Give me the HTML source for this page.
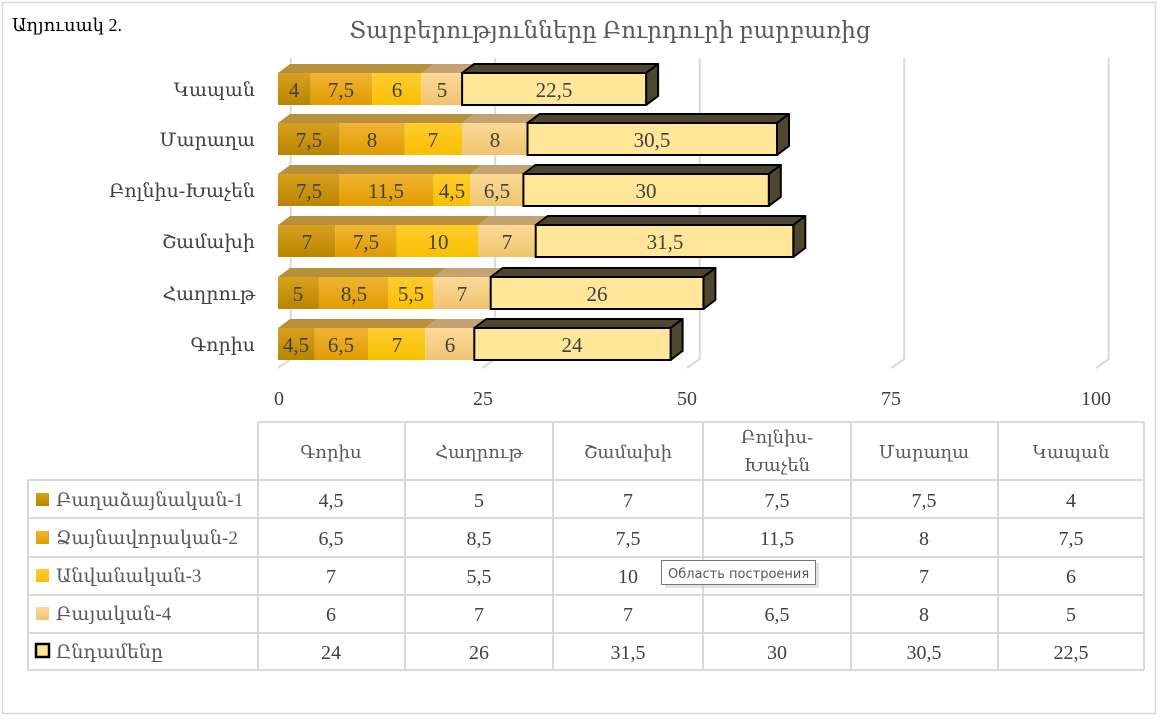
<!DOCTYPE html>
<html><head><meta charset="utf-8"><style>
body{margin:0;background:#fff;}
svg{display:block;font-family:"Liberation Serif","DejaVu Serif",serif;}
</style></head><body>
<svg width="1167" height="720" viewBox="0 0 1167 720" xmlns="http://www.w3.org/2000/svg">
<defs>
<linearGradient id="g1" x1="0" y1="0" x2="0" y2="1"><stop offset="0" stop-color="#d8a020"/><stop offset="1" stop-color="#b98500"/></linearGradient>
<linearGradient id="g2" x1="0" y1="0" x2="0" y2="1"><stop offset="0" stop-color="#f0b432"/><stop offset="1" stop-color="#e09c00"/></linearGradient>
<linearGradient id="g3" x1="0" y1="0" x2="0" y2="1"><stop offset="0" stop-color="#ffcc30"/><stop offset="1" stop-color="#f8c000"/></linearGradient>
<linearGradient id="g4" x1="0" y1="0" x2="0" y2="1"><stop offset="0" stop-color="#fbd996"/><stop offset="1" stop-color="#f0c470"/></linearGradient>
</defs>
<rect x="2.5" y="2.5" width="1153" height="711" fill="#fff" stroke="#d9d9d9" stroke-width="1.5"/>
<text x="12" y="31" font-size="18" fill="#000">Աղյուսակ 2.</text>
<text x="610" y="38" font-size="23" fill="#595959" text-anchor="middle">Տարբերությունները Բուրդուրի բարբառից</text>

<g stroke="#d9d9d9" stroke-width="2" fill="none">
<polyline points="290.7,58 290.7,359 278,368"/>
<polyline points="495.2,58 495.2,359 482.5,368"/>
<polyline points="699.7,58 699.7,359 687,368"/>
<polyline points="904.2,58 904.2,359 891.5,368"/>
<polyline points="1108.7,58 1108.7,359 1096,368"/>
</g>

<g font-size="19" fill="#404040" text-anchor="end">
<text x="255" y="96">Կապան</text>
<text x="255" y="146">Մարաղա</text>
<text x="255" y="197">Բոլնիս-Խաչեն</text>
<text x="255" y="248">Շամախի</text>
<text x="255" y="300">Հաղրութ</text>
<text x="255" y="351">Գորիս</text>
</g>
<g font-size="20" fill="#404040" text-anchor="middle">
<text x="279" y="405">0</text><text x="483" y="405">25</text><text x="687" y="405">50</text><text x="891" y="405">75</text><text x="1096" y="405">100</text>
</g>

<g>
<polygon points="278,73 290,64 634,64 622,73" fill="#b8903c"/>
<polygon points="421,73 433,64 475,64 463,73" fill="#c4a272"/>
<rect x="278" y="73" width="32.7" height="32" fill="url(#g1)"/>
<rect x="310.7" y="73" width="61.4" height="32" fill="url(#g2)"/>
<rect x="372.1" y="73" width="49.1" height="32" fill="url(#g3)"/>
<rect x="421.2" y="73" width="40.9" height="32" fill="url(#g4)"/>
<polygon points="462.1,73 474.1,64 658.1,64 646.1,73" fill="#4f4630" stroke="#000" stroke-width="2" stroke-linejoin="round"/>
<polygon points="646.1,73 658.1,64 658.1,96 646.1,105" fill="#4f4630" stroke="#000" stroke-width="2" stroke-linejoin="round"/>
<rect x="462.1" y="73" width="184" height="32" fill="#ffe699" stroke="#000" stroke-width="2"/>
</g>
<g>
<polygon points="278,123 290,114 474,114 462,123" fill="#b8903c"/>
<polygon points="462,123 474,114 540,114 528,123" fill="#c4a272"/>
<rect x="278" y="123" width="61.4" height="32" fill="url(#g1)"/>
<rect x="339.4" y="123" width="65.4" height="32" fill="url(#g2)"/>
<rect x="404.8" y="123" width="57.3" height="32" fill="url(#g3)"/>
<rect x="462.1" y="123" width="65.4" height="32" fill="url(#g4)"/>
<polygon points="527.5,123 539.5,114 789,114 777,123" fill="#4f4630" stroke="#000" stroke-width="2" stroke-linejoin="round"/>
<polygon points="777,123 789,114 789,146 777,155" fill="#4f4630" stroke="#000" stroke-width="2" stroke-linejoin="round"/>
<rect x="527.5" y="123" width="249.5" height="32" fill="#ffe699" stroke="#000" stroke-width="2"/>
</g>
<g>
<polygon points="278,174 290,165 482,165 470,174" fill="#b8903c"/>
<polygon points="470,174 482,165 536,165 524,174" fill="#c4a272"/>
<rect x="278" y="174" width="61.4" height="32" fill="url(#g1)"/>
<rect x="339.4" y="174" width="94" height="32" fill="url(#g2)"/>
<rect x="433.4" y="174" width="36.8" height="32" fill="url(#g3)"/>
<rect x="470.2" y="174" width="53.2" height="32" fill="url(#g4)"/>
<polygon points="523.4,174 535.4,165 780.8,165 768.8,174" fill="#4f4630" stroke="#000" stroke-width="2" stroke-linejoin="round"/>
<polygon points="768.8,174 780.8,165 780.8,197 768.8,206" fill="#4f4630" stroke="#000" stroke-width="2" stroke-linejoin="round"/>
<rect x="523.4" y="174" width="245.4" height="32" fill="#ffe699" stroke="#000" stroke-width="2"/>
</g>
<g>
<polygon points="278,225 290,216 490,216 478,225" fill="#b8903c"/>
<polygon points="478,225 490,216 548,216 536,225" fill="#c4a272"/>
<rect x="278" y="225" width="57.3" height="32" fill="url(#g1)"/>
<rect x="335.3" y="225" width="61.3" height="32" fill="url(#g2)"/>
<rect x="396.6" y="225" width="81.8" height="32" fill="url(#g3)"/>
<rect x="478.4" y="225" width="57.3" height="32" fill="url(#g4)"/>
<polygon points="535.7,225 547.7,216 805.3,216 793.3,225" fill="#4f4630" stroke="#000" stroke-width="2" stroke-linejoin="round"/>
<polygon points="793.3,225 805.3,216 805.3,248 793.3,257" fill="#4f4630" stroke="#000" stroke-width="2" stroke-linejoin="round"/>
<rect x="535.7" y="225" width="257.6" height="32" fill="#ffe699" stroke="#000" stroke-width="2"/>
</g>
<g>
<polygon points="278,277 290,268 446,268 434,277" fill="#b8903c"/>
<polygon points="434,277 446,268 503,268 491,277" fill="#c4a272"/>
<rect x="278" y="277" width="40.9" height="32" fill="url(#g1)"/>
<rect x="318.9" y="277" width="69.5" height="32" fill="url(#g2)"/>
<rect x="388.4" y="277" width="45" height="32" fill="url(#g3)"/>
<rect x="433.4" y="277" width="57.3" height="32" fill="url(#g4)"/>
<polygon points="490.7,277 502.7,268 715.4,268 703.4,277" fill="#4f4630" stroke="#000" stroke-width="2" stroke-linejoin="round"/>
<polygon points="703.4,277 715.4,268 715.4,300 703.4,309" fill="#4f4630" stroke="#000" stroke-width="2" stroke-linejoin="round"/>
<rect x="490.7" y="277" width="212.7" height="32" fill="#ffe699" stroke="#000" stroke-width="2"/>
</g>
<g>
<polygon points="278,328 290,319 437,319 425,328" fill="#b8903c"/>
<polygon points="425,328 437,319 486,319 474,328" fill="#c4a272"/>
<rect x="278" y="328" width="36.8" height="32" fill="url(#g1)"/>
<rect x="314.8" y="328" width="53.2" height="32" fill="url(#g2)"/>
<rect x="368" y="328" width="57.2" height="32" fill="url(#g3)"/>
<rect x="425.2" y="328" width="49.1" height="32" fill="url(#g4)"/>
<polygon points="474.3,328 486.3,319 682.6,319 670.6,328" fill="#4f4630" stroke="#000" stroke-width="2" stroke-linejoin="round"/>
<polygon points="670.6,328 682.6,319 682.6,351 670.6,360" fill="#4f4630" stroke="#000" stroke-width="2" stroke-linejoin="round"/>
<rect x="474.3" y="328" width="196.3" height="32" fill="#ffe699" stroke="#000" stroke-width="2"/>
</g>

<g font-size="21" fill="#404040" text-anchor="middle">
<text x="294" y="97">4</text><text x="341" y="97">7,5</text><text x="397" y="97">6</text><text x="442" y="97">5</text><text x="554" y="97">22,5</text>
<text x="309" y="147">7,5</text><text x="372" y="147">8</text><text x="433" y="147">7</text><text x="495" y="147">8</text><text x="652" y="147">30,5</text>
<text x="309" y="198">7,5</text><text x="386" y="198">11,5</text><text x="452" y="198">4,5</text><text x="497" y="198">6,5</text><text x="646" y="198">30</text>
<text x="307" y="249">7</text><text x="366" y="249">7,5</text><text x="438" y="249">10</text><text x="507" y="249">7</text><text x="665" y="249">31,5</text>
<text x="298" y="301">5</text><text x="354" y="301">8,5</text><text x="411" y="301">5,5</text><text x="462" y="301">7</text><text x="597" y="301">26</text>
<text x="296" y="352">4,5</text><text x="341" y="352">6,5</text><text x="397" y="352">7</text><text x="450" y="352">6</text><text x="572" y="352">24</text>
</g>

<g stroke="#d9d9d9" stroke-width="2" fill="none">
<line x1="258" y1="422" x2="1144" y2="422"/>
<line x1="28" y1="480" x2="1144" y2="480"/>
<line x1="28" y1="518" x2="1144" y2="518"/>
<line x1="28" y1="557" x2="1144" y2="557"/>
<line x1="28" y1="595" x2="1144" y2="595"/>
<line x1="28" y1="633" x2="1144" y2="633"/>
<line x1="28" y1="670" x2="1144" y2="670"/>
<line x1="28" y1="480" x2="28" y2="670"/>
<line x1="258" y1="422" x2="258" y2="670"/>
<line x1="405" y1="422" x2="405" y2="670"/>
<line x1="553" y1="422" x2="553" y2="670"/>
<line x1="703" y1="422" x2="703" y2="670"/>
<line x1="851" y1="422" x2="851" y2="670"/>
<line x1="998" y1="422" x2="998" y2="670"/>
<line x1="1144" y1="422" x2="1144" y2="670"/>
</g>
<g font-size="18" fill="#595959" text-anchor="middle">
<text x="331" y="458">Գորիս</text><text x="479" y="458">Հաղրութ</text><text x="628" y="458">Շամախի</text>
<text x="777" y="443">Բոլնիս-</text><text x="777" y="471">Խաչեն</text>
<text x="924" y="458">Մարաղա</text><text x="1071" y="458">Կապան</text>
</g>
<rect x="36" y="493" width="13" height="13" fill="url(#g1)"/>
<rect x="36" y="531" width="13" height="13" fill="url(#g2)"/>
<rect x="36" y="569" width="13" height="13" fill="url(#g3)"/>
<rect x="36" y="607" width="13" height="13" fill="url(#g4)"/>
<rect x="36" y="644" width="13" height="13" fill="#ffe699" stroke="#000" stroke-width="2.5"/>
<g font-size="19" fill="#595959">
<text x="56" y="506">Բաղաձայնական-1</text>
<text x="56" y="544">Ձայնավորական-2</text>
<text x="56" y="582">Անվանական-3</text>
<text x="56" y="620">Բայական-4</text>
<text x="56" y="658">Ընդամենը</text>
</g>
<g font-size="20" fill="#404040" text-anchor="middle">
<text x="331" y="507">4,5</text><text x="479" y="507">5</text><text x="628" y="507">7</text><text x="777" y="507">7,5</text><text x="924" y="507">7,5</text><text x="1071" y="507">4</text>
<text x="331" y="545">6,5</text><text x="479" y="545">8,5</text><text x="628" y="545">7,5</text><text x="777" y="545">11,5</text><text x="924" y="545">8</text><text x="1071" y="545">7,5</text>
<text x="331" y="583">7</text><text x="479" y="583">5,5</text><text x="628" y="583">10</text><text x="924" y="583">7</text><text x="1071" y="583">6</text>
<text x="331" y="621">6</text><text x="479" y="621">7</text><text x="628" y="621">7</text><text x="777" y="621">6,5</text><text x="924" y="621">8</text><text x="1071" y="621">5</text>
<text x="331" y="659">24</text><text x="479" y="659">26</text><text x="628" y="659">31,5</text><text x="777" y="659">30</text><text x="924" y="659">30,5</text><text x="1071" y="659">22,5</text>
</g>
<rect x="665" y="563" width="154" height="25" fill="#d0d0d0" opacity="0.6"/>
<rect x="661.5" y="560.5" width="154" height="24" fill="#fff" stroke="#767676" stroke-width="1"/>
<text x="668" y="578" font-family="'DejaVu Sans','Liberation Sans',sans-serif" font-size="13" fill="#575757">Область построения</text>
</svg>
</body></html>
